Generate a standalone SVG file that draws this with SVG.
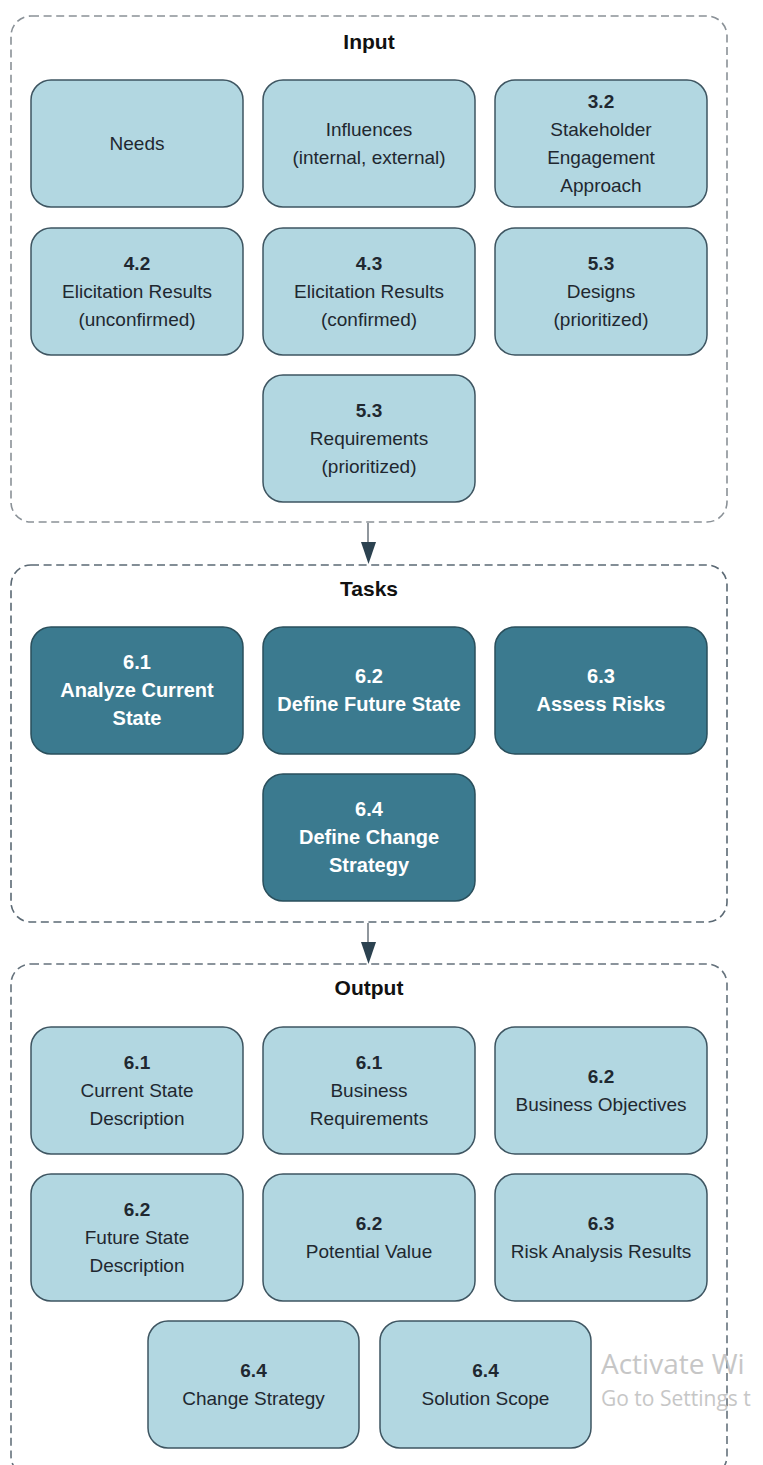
<svg xmlns="http://www.w3.org/2000/svg" width="763" height="1465" viewBox="0 0 763 1465">
  <style>
    .frame { fill: none; stroke-width: 1.6; stroke-dasharray: 8 4.6; }
    .title { font-family: "Liberation Sans", Arial, sans-serif; font-weight: bold; font-size: 21px; fill: #111; text-anchor: middle; }
    .in rect { fill: #b2d7e1; stroke: #3e5561; stroke-width: 1.5; }
    .in text { font-family: "Liberation Sans", Arial, sans-serif; font-size: 19px; fill: #1f2830; text-anchor: middle; }
    .task rect { fill: #3b7a8f; stroke: #2a4f5c; stroke-width: 1.5; }
    .task text { font-family: "Liberation Sans", Arial, sans-serif; font-size: 20px; font-weight: bold; fill: #ffffff; text-anchor: middle; }
    .wm { font-family: "Open Sans", "Noto Sans", sans-serif; fill: #bdbdbd; opacity: 0.85; }
  </style>

  <!-- section frames -->
  <g id="frames">
    <rect id="frame-input" class="frame" x="11" y="16" width="716" height="506" rx="20" stroke="#8a9197"/>
    <rect id="frame-tasks" class="frame" x="11" y="565" width="716" height="357" rx="20" stroke="#5b6974"/>
    <rect id="frame-output" class="frame" x="11" y="964" width="716" height="512" rx="20" stroke="#65727c"/>
    <text class="title" x="369" y="49">Input</text>
    <text class="title" x="369" y="596">Tasks</text>
    <text class="title" x="369" y="995">Output</text>
  </g>

  <!-- connectors between sections -->
  <g id="connectors">
    <line x1="368" y1="523" x2="368" y2="542" stroke="#6b757d" stroke-width="1.5"/>
    <polygon points="361,542 376,542 368.5,564" fill="#2c4250"/>
    <line x1="368" y1="923" x2="368" y2="942" stroke="#6b757d" stroke-width="1.5"/>
    <polygon points="361,942 376,942 368.5,964" fill="#2c4250"/>
  </g>

  <!-- Input -->
  <g id="in-needs" class="in">
    <rect x="31" y="80" width="212" height="127" rx="20"/>
    <text x="137" y="150">Needs</text>
  </g>
  <g id="in-influences" class="in">
    <rect x="263" y="80" width="212" height="127" rx="20"/>
    <text x="369" y="136">Influences</text>
    <text x="369" y="164">(internal, external)</text>
  </g>
  <g id="in-3-2" class="in">
    <rect x="495" y="80" width="212" height="127" rx="20"/>
    <text x="601" y="108" font-weight="bold">3.2</text>
    <text x="601" y="136">Stakeholder</text>
    <text x="601" y="164">Engagement</text>
    <text x="601" y="192">Approach</text>
  </g>
  <g id="in-4-2" class="in">
    <rect x="31" y="228" width="212" height="127" rx="20"/>
    <text x="137" y="270" font-weight="bold">4.2</text>
    <text x="137" y="298">Elicitation Results</text>
    <text x="137" y="326">(unconfirmed)</text>
  </g>
  <g id="in-4-3" class="in">
    <rect x="263" y="228" width="212" height="127" rx="20"/>
    <text x="369" y="270" font-weight="bold">4.3</text>
    <text x="369" y="298">Elicitation Results</text>
    <text x="369" y="326">(confirmed)</text>
  </g>
  <g id="in-5-3-designs" class="in">
    <rect x="495" y="228" width="212" height="127" rx="20"/>
    <text x="601" y="270" font-weight="bold">5.3</text>
    <text x="601" y="298">Designs</text>
    <text x="601" y="326">(prioritized)</text>
  </g>
  <g id="in-5-3-reqs" class="in">
    <rect x="263" y="375" width="212" height="127" rx="20"/>
    <text x="369" y="417" font-weight="bold">5.3</text>
    <text x="369" y="445">Requirements</text>
    <text x="369" y="473">(prioritized)</text>
  </g>

  <!-- Tasks -->
  <g id="task-6-1" class="task">
    <rect x="31" y="627" width="212" height="127" rx="20"/>
    <text x="137" y="669">6.1</text>
    <text x="137" y="697">Analyze Current</text>
    <text x="137" y="725">State</text>
  </g>
  <g id="task-6-2" class="task">
    <rect x="263" y="627" width="212" height="127" rx="20"/>
    <text x="369" y="683">6.2</text>
    <text x="369" y="711">Define Future State</text>
  </g>
  <g id="task-6-3" class="task">
    <rect x="495" y="627" width="212" height="127" rx="20"/>
    <text x="601" y="683">6.3</text>
    <text x="601" y="711">Assess Risks</text>
  </g>
  <g id="task-6-4" class="task">
    <rect x="263" y="774" width="212" height="127" rx="20"/>
    <text x="369" y="816">6.4</text>
    <text x="369" y="844">Define Change</text>
    <text x="369" y="872">Strategy</text>
  </g>

  <!-- Output -->
  <g id="out-6-1-current" class="in">
    <rect x="31" y="1027" width="212" height="127" rx="20"/>
    <text x="137" y="1069" font-weight="bold">6.1</text>
    <text x="137" y="1097">Current State</text>
    <text x="137" y="1125">Description</text>
  </g>
  <g id="out-6-1-business" class="in">
    <rect x="263" y="1027" width="212" height="127" rx="20"/>
    <text x="369" y="1069" font-weight="bold">6.1</text>
    <text x="369" y="1097">Business</text>
    <text x="369" y="1125">Requirements</text>
  </g>
  <g id="out-6-2-objectives" class="in">
    <rect x="495" y="1027" width="212" height="127" rx="20"/>
    <text x="601" y="1083" font-weight="bold">6.2</text>
    <text x="601" y="1111">Business Objectives</text>
  </g>
  <g id="out-6-2-future" class="in">
    <rect x="31" y="1174" width="212" height="127" rx="20"/>
    <text x="137" y="1216" font-weight="bold">6.2</text>
    <text x="137" y="1244">Future State</text>
    <text x="137" y="1272">Description</text>
  </g>
  <g id="out-6-2-value" class="in">
    <rect x="263" y="1174" width="212" height="127" rx="20"/>
    <text x="369" y="1230" font-weight="bold">6.2</text>
    <text x="369" y="1258">Potential Value</text>
  </g>
  <g id="out-6-3-risk" class="in">
    <rect x="495" y="1174" width="212" height="127" rx="20"/>
    <text x="601" y="1230" font-weight="bold">6.3</text>
    <text x="601" y="1258">Risk Analysis Results</text>
  </g>
  <g id="out-6-4-strategy" class="in">
    <rect x="148" y="1321" width="211" height="127" rx="20"/>
    <text x="253.5" y="1377" font-weight="bold">6.4</text>
    <text x="253.5" y="1405">Change Strategy</text>
  </g>
  <g id="out-6-4-scope" class="in">
    <rect x="380" y="1321" width="211" height="127" rx="20"/>
    <text x="485.5" y="1377" font-weight="bold">6.4</text>
    <text x="485.5" y="1405">Solution Scope</text>
  </g>

  <!-- system overlay text -->
  <g id="overlay">
    <text class="wm" x="601" y="1374" font-size="28">Activate Wi</text>
    <text class="wm" x="601" y="1406" font-size="21">Go to Settings t</text>
  </g>
</svg>
